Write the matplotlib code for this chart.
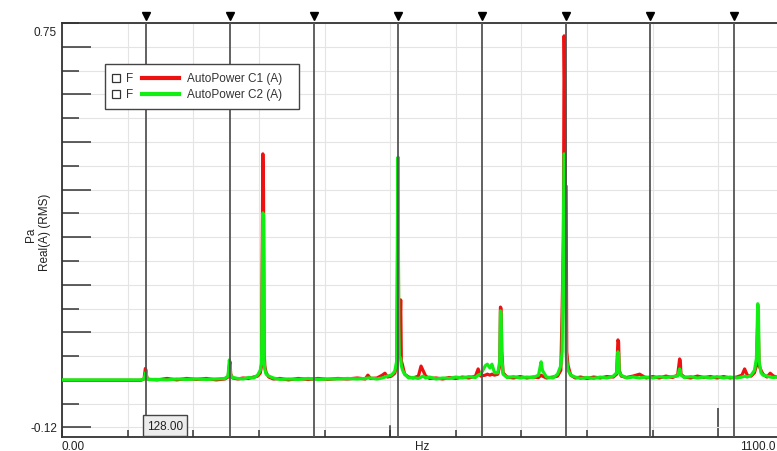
import matplotlib.pyplot as plt
from matplotlib.patches import Rectangle
from matplotlib.lines import Line2D
from matplotlib.ticker import MultipleLocator

# spectrum values (Hz, Pa)
freq_hz = [0, 40, 80, 120, 125, 127, 128, 129, 132, 145, 160, 175, 190, 205, 220, 235, 248,
           253, 255, 256, 257, 260, 268, 276, 284, 292, 298, 302, 304, 305, 306, 307, 308, 309,
           311, 315, 322, 332, 345, 360, 375, 390, 405, 420, 435, 450, 462, 466, 470, 480, 488,
           492, 496, 502, 507, 510, 511, 512, 513, 514, 516, 517, 519, 522, 528, 535, 543, 547,
           550, 554, 560, 570, 580, 590, 600, 610, 620, 630, 634, 638, 645, 648, 652, 655, 659,
           664, 667, 668, 669, 670, 672, 678, 688, 698, 708, 718, 726, 730, 732, 738, 748, 755,
           760, 762, 764, 765, 766, 767, 768, 769, 771, 775, 782, 790, 800, 810, 820, 830, 840,
           845, 847, 848, 849, 852, 860, 870, 880, 890, 900, 910, 920, 930, 938, 941, 942, 943,
           948, 958, 968, 978, 988, 998, 1008, 1018, 1028, 1036, 1040, 1044, 1050, 1055, 1058,
           1060, 1061, 1062, 1065, 1068, 1074, 1079, 1084, 1092, 1100]

c1_pa = [-0.001, -0.001, -0.001, -0.001, 0.002, 0.024, 0.020, 0.006, 0.001, 0.000, 0.003, 0.000,
         0.003, 0.001, 0.003, 0.000, 0.002,
         0.006, 0.030, 0.038, 0.012, 0.004, 0.002, 0.004, 0.003, 0.006, 0.008, 0.014, 0.030,
         0.250, 0.475, 0.395, 0.060, 0.029,
         0.015, 0.006, 0.002, 0.003, 0.000, 0.003, 0.001, 0.003, 0.001, 0.003, 0.002, 0.004,
         0.002, 0.010, 0.003, 0.004, 0.010,
         0.014, 0.006, 0.008, 0.014, 0.030, 0.200, 0.440, 0.060, 0.050, 0.168, 0.040, 0.030,
         0.012, 0.006, 0.004, 0.008, 0.029,
         0.020, 0.008, 0.003, 0.004, 0.002, 0.005, 0.003, 0.006, 0.004, 0.008, 0.023, 0.008,
         0.010, 0.012, 0.010, 0.012, 0.010,
         0.012, 0.030, 0.153, 0.150, 0.060, 0.015, 0.006, 0.004, 0.007, 0.004, 0.006, 0.005,
         0.010, 0.008, 0.004, 0.006, 0.008,
         0.020, 0.149, 0.300, 0.723, 0.600, 0.407, 0.407, 0.059, 0.030, 0.010, 0.004, 0.006,
         0.003, 0.006, 0.004, 0.007, 0.006,
         0.012, 0.084, 0.080, 0.020, 0.008, 0.005, 0.008, 0.012, 0.004, 0.007, 0.004, 0.008,
         0.005, 0.010, 0.044, 0.040, 0.012,
         0.006, 0.004, 0.008, 0.005, 0.007, 0.004, 0.007, 0.004, 0.006, 0.010, 0.023, 0.010,
         0.008, 0.015, 0.030,
         0.122, 0.100, 0.030, 0.020, 0.012, 0.006, 0.014, 0.008, 0.005, 0.006]

c2_pa = [0.000, 0.000, 0.000, 0.000, 0.002, 0.012, 0.016, 0.006, 0.001, 0.001, 0.000, 0.002,
         0.001, 0.002, 0.001, 0.002, 0.003,
         0.008, 0.042, 0.030, 0.010, 0.005, 0.003, 0.002, 0.005, 0.004, 0.010, 0.020, 0.035,
         0.200, 0.351, 0.340, 0.040, 0.022,
         0.012, 0.008, 0.004, 0.001, 0.002, 0.001, 0.003, 0.001, 0.002, 0.002, 0.003, 0.002,
         0.003, 0.004, 0.004, 0.002, 0.004,
         0.006, 0.008, 0.010, 0.018, 0.040, 0.300, 0.468, 0.120, 0.050, 0.045, 0.030, 0.020,
         0.012, 0.004, 0.005, 0.003, 0.006,
         0.008, 0.004, 0.006, 0.002, 0.004, 0.003, 0.006, 0.004, 0.007, 0.005, 0.010, 0.012,
         0.030, 0.033, 0.025, 0.033, 0.015,
         0.015, 0.040, 0.145, 0.140, 0.050, 0.012, 0.005, 0.007, 0.004, 0.006, 0.005, 0.010,
         0.038, 0.020, 0.006, 0.004, 0.012,
         0.030, 0.060, 0.350, 0.475, 0.470, 0.300, 0.060, 0.040, 0.020, 0.010, 0.006, 0.003,
         0.005, 0.003, 0.006, 0.004, 0.008,
         0.015, 0.059, 0.055, 0.015, 0.010, 0.004, 0.006, 0.004, 0.006, 0.004, 0.007, 0.005,
         0.007, 0.008, 0.023, 0.020, 0.010,
         0.005, 0.007, 0.004, 0.006, 0.004, 0.007, 0.004, 0.006, 0.004, 0.006, 0.008, 0.006,
         0.010, 0.020, 0.045,
         0.160, 0.150, 0.040, 0.015, 0.010, 0.008, 0.006, 0.005, 0.007, 0.004]

cursor_hz = [128, 256, 384, 512, 640, 768, 896, 1024]
series_names = ['AutoPower C1 (A)', 'AutoPower C2 (A)']
series_colors = ['#ee1111', '#11ee11']

W, H = 777, 452


def px(x, y):
    # pixel position (from top-left) -> figure fraction
    return x / W, 1 - y / H


fig = plt.figure(figsize=(W / 100, H / 100), dpi=100)
plt.rcParams['font.family'] = ['Liberation Sans', 'DejaVu Sans']
ax = fig.add_axes([62 / W, 14 / H, 722 / W, 414 / H])

ax.plot(freq_hz, c1_pa, color=series_colors[0], lw=2.3, zorder=3)
ax.plot(freq_hz, c2_pa, color=series_colors[1], lw=2.3, zorder=4)

ax.set_xlim(0, 1100)
ax.set_ylim(-0.12, 0.75)

# grid
ax.xaxis.set_minor_locator(MultipleLocator(100))
ax.yaxis.set_major_locator(MultipleLocator(0.1))
ax.yaxis.set_minor_locator(MultipleLocator(0.05))
ax.set_xticks([1000])
ax.grid(True, which='both', color='#e4e4e4', lw=0.8, zorder=0)
ax.set_axisbelow(True)

ax.tick_params(axis='y', which='major', direction='in', length=21, width=1.1, color='#333333',
               labelleft=False)
ax.tick_params(axis='y', which='minor', direction='in', length=12, width=1.1, color='#333333')
ax.tick_params(axis='x', which='major', direction='in', length=21, width=1.1, color='#333333',
               labelbottom=False)
ax.tick_params(axis='x', which='minor', direction='in', length=5, width=1.1, color='#333333')
ax.axvline(500, ymin=0, ymax=11 / 414, color='#333333', lw=1.1, zorder=2)

for side in ['left', 'top', 'bottom', 'right']:
    ax.spines[side].set_color('#333333')
    ax.spines[side].set_linewidth(1.3)

# harmonic cursors
for hz in cursor_hz:
    ax.axvline(hz, color='#555555', lw=1.3, zorder=5)
    ax.plot(hz, 1.016, marker='v', ms=5.5, color='black', transform=ax.get_xaxis_transform(),
            clip_on=False, zorder=6)

# axis texts
fs = 8.5
fig.text(*px(57, 33), '0.75', ha='right', va='center', fontsize=fs, color='#222222')
fig.text(*px(57, 429), '-0.12', ha='right', va='center', fontsize=fs, color='#222222')
fig.text(*px(62, 441), '0.00', ha='left', va='top', fontsize=fs, color='#222222')
fig.text(*px(422, 441), 'Hz', ha='center', va='top', fontsize=fs, color='#222222')
fig.text(*px(776, 441), '1100.0', ha='right', va='top', fontsize=fs, color='#222222')
fig.text(*px(31, 235), 'Pa', rotation=90, ha='center', va='center', fontsize=fs, color='#222222')
fig.text(*px(45, 232), 'Real(A) (RMS)', rotation=90, ha='center', va='center', fontsize=fs,
         color='#222222')

# cursor value box
fig.patches.append(Rectangle(px(143, 437), 44 / W, 21 / H, transform=fig.transFigure,
                             facecolor='#ececec', edgecolor='#444444', lw=1.0, zorder=7))
fig.text(*px(165, 427), '128.00', ha='center', va='center', fontsize=fs, color='#222222',
         zorder=8)

# legend drawn like the analyser's box
fig.patches.append(Rectangle(px(105, 110), 194 / W, 45 / H, transform=fig.transFigure,
                             facecolor='white', edgecolor='#444444', lw=1.0, zorder=7))
for i, (name, col) in enumerate(zip(series_names, series_colors)):
    yrow = 79 + 16 * i
    fig.patches.append(Rectangle(px(112, yrow + 4), 8 / W, 8 / H, transform=fig.transFigure,
                                 facecolor='white', edgecolor='#333333', lw=0.9, zorder=8))
    fig.text(*px(126, yrow), 'F', ha='left', va='center', fontsize=fs, color='#333333', zorder=8)
    x0, y0 = px(142, yrow)
    x1, _ = px(179, yrow)
    fig.lines.append(Line2D([x0, x1], [y0, y0], transform=fig.transFigure, color=col, lw=3,
                            zorder=8))
    fig.text(*px(187, yrow), name, ha='left', va='center', fontsize=fs, color='#333333',
             zorder=8)

fig.savefig('out.png', dpi=100)
